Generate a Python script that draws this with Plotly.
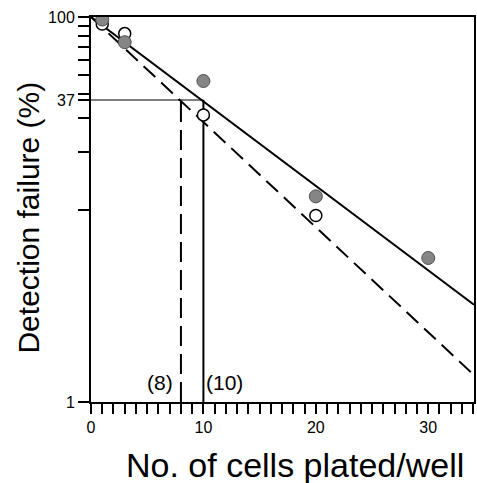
import plotly.graph_objects as go

# Data
filled_x = [1, 3, 10, 20, 30]
filled_y = [97, 74, 46.5, 11.7, 5.6]
open_x = [1, 3, 10, 20]
open_y = [92, 82, 31, 9.3]

fit_x = [0, 34.07]
solid_fit_y = [100, 3.2]
dashed_fit_y = [100, 1.38]

ref_level = 37
ref_solid_x = 10
ref_dashed_x = 8

x_tick_vals = list(range(0, 35))
x_tick_text = [str(v) if v % 10 == 0 else "" for v in x_tick_vals]
y_tick_vals = [1, 10, 20, 30, 37, 40, 50, 60, 70, 80, 90, 100]
y_tick_text = ["1", "", "", "", "37", "", "", "", "", "", "", "100"]

FONT = "Liberation Sans, Arial, Helvetica, sans-serif"

fig = go.Figure()

# reference lines
fig.add_trace(go.Scatter(x=[0, ref_solid_x], y=[ref_level, ref_level], mode="lines",
                         line=dict(color="#555555", width=1.5), showlegend=False, hoverinfo="skip"))
fig.add_trace(go.Scatter(x=[ref_solid_x, ref_solid_x], y=[1, ref_level], mode="lines",
                         line=dict(color="black", width=2), showlegend=False, hoverinfo="skip"))
fig.add_trace(go.Scatter(x=[ref_dashed_x, ref_dashed_x], y=[1, ref_level], mode="lines",
                         line=dict(color="black", width=2, dash="20px,8px"), showlegend=False, hoverinfo="skip"))

# fit lines
fig.add_trace(go.Scatter(x=fit_x, y=solid_fit_y, mode="lines",
                         line=dict(color="black", width=2), showlegend=False))
fig.add_trace(go.Scatter(x=fit_x, y=dashed_fit_y, mode="lines",
                         line=dict(color="black", width=2, dash="16px,8px"), showlegend=False))

# markers
fig.add_trace(go.Scatter(x=open_x, y=open_y, mode="markers",
                         marker=dict(size=12, color="white", line=dict(color="black", width=1.5)),
                         showlegend=False))
fig.add_trace(go.Scatter(x=filled_x, y=filled_y, mode="markers",
                         marker=dict(size=13, color="#858585", line=dict(color="#505050", width=1)),
                         showlegend=False))

fig.add_annotation(x=ref_dashed_x, y=0.1, yref="y", xref="x", text="(8)", showarrow=False,
                   xanchor="right", yanchor="middle", xshift=-6, font=dict(size=21, color="black", family=FONT))
fig.add_annotation(x=ref_solid_x, y=0.1, yref="y", xref="x", text="(10)", showarrow=False,
                   xanchor="left", yanchor="middle", xshift=1, font=dict(size=21, color="black", family=FONT))

fig.add_annotation(xref="paper", yref="paper", x=-0.163, y=0.478, text="Detection failure (%)",
                   textangle=-90, showarrow=False, xanchor="center", yanchor="middle",
                   font=dict(size=30, color="black", family=FONT))
fig.add_annotation(xref="paper", yref="paper", x=0.532, y=-0.164, text="No. of cells plated/well",
                   showarrow=False, xanchor="center", yanchor="middle",
                   font=dict(size=34, color="black", family=FONT))

fig.update_xaxes(range=[0, 34.07], tickmode="array", tickvals=x_tick_vals, ticktext=x_tick_text,
                 ticks="outside", ticklen=10, tickwidth=1.5, tickcolor="black",
                 showline=True, linecolor="black", linewidth=2, mirror=True,
                 showgrid=False, zeroline=False,
                 tickfont=dict(size=16, color="black", family=FONT))
fig.update_yaxes(type="log", range=[0, 2], tickmode="array", tickvals=y_tick_vals, ticktext=y_tick_text,
                 ticks="outside", ticklen=11, tickwidth=1.5, tickcolor="black",
                 showline=True, linecolor="black", linewidth=2, mirror=True,
                 showgrid=False, zeroline=False,
                 tickfont=dict(size=16, color="black", family=FONT))

fig.update_layout(width=477, height=483, margin=dict(l=91, r=1, t=17, b=81),
                  plot_bgcolor="white", paper_bgcolor="white", showlegend=False,
                  font=dict(family=FONT, color="black"))

fig.write_html("out.html", config={"displayModeBar": False},
               post_script="document.body.style.margin='0';document.body.style.overflow='hidden';")
